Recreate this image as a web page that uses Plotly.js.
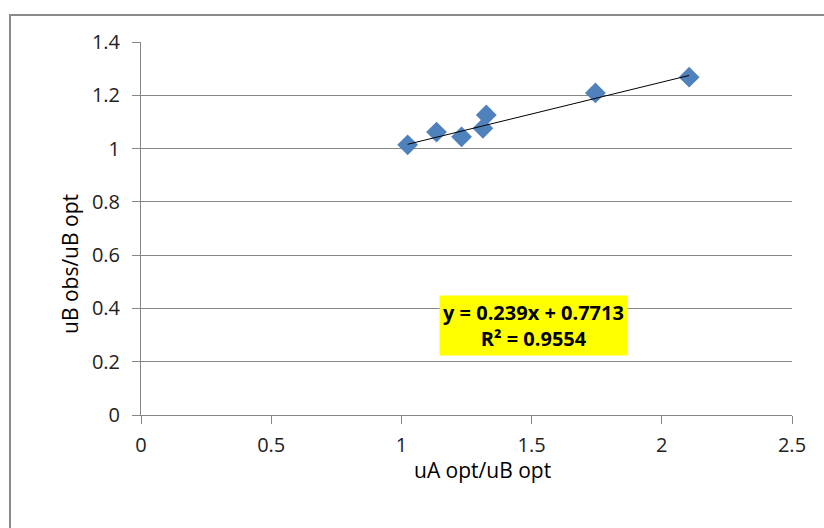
<!DOCTYPE html>
<html>
<head>
<meta charset="utf-8">
<script src="https://cdn.plot.ly/plotly-3.0.1.min.js"></script>
<style>
html,body{margin:0;padding:0;background:#fff;overflow:hidden;}
#frame{position:absolute;left:9px;top:14px;width:900px;height:600px;border:2px solid #8a8a8a;box-sizing:border-box;}
#chart{position:absolute;left:0;top:0;width:824px;height:528px;}
</style>
</head>
<body>
<div id="frame"></div>
<div id="chart"></div>
<script>
// Data
const xVals = [1.024, 1.135, 1.231, 1.313, 1.326, 1.745, 2.105];
const yVals = [1.014, 1.062, 1.044, 1.076, 1.126, 1.209, 1.268];
const trendSlope = [0.239];
const trendIntercept = [0.7713];
const trendLabel = ['y = 0.239x + 0.7713', 'R² = 0.9554'];
const xTitle = 'uA opt/uB opt';
const yTitle = 'uB obs/uB opt';
const xTicks = [0, 0.5, 1, 1.5, 2, 2.5];
const yTicks = [0, 0.2, 0.4, 0.6, 0.8, 1, 1.2, 1.4];

const xMin = Math.min(...xVals), xMax = Math.max(...xVals);
const trendX = [xMin, xMax];
const trendY = trendX.map(v => trendSlope[0] * v + trendIntercept[0]);

const font = "Open Sans";

const data = [
  {
    x: xVals, y: yVals, type: 'scatter', mode: 'markers',
    marker: {symbol: 'diamond', size: 16, color: '#4F81BD', line: {width: 0}},
    hoverinfo: 'x+y', showlegend: false
  },
  {
    x: trendX, y: trendY, type: 'scatter', mode: 'lines',
    line: {color: '#000000', width: 1}, showlegend: false, hoverinfo: 'skip'
  }
];

const layout = {
  width: 824, height: 528,
  margin: {l: 141, r: 32, t: 42, b: 113},
  paper_bgcolor: 'rgba(0,0,0,0)', plot_bgcolor: 'rgba(0,0,0,0)',
  font: {family: font, size: 20, color: '#000'},
  xaxis: {
    range: [0, 2.5], tickvals: xTicks, ticktext: xTicks.map(String),
    showgrid: false, zeroline: false,
    showline: true, linecolor: '#868686', linewidth: 1,
    ticks: 'outside', ticklen: 8, tickcolor: '#868686', tickwidth: 1,
    ticklabelstandoff: 4,
    tickfont: {family: font, size: 20, color: '#222'}
  },
  yaxis: {
    range: [0, 1.4], tickvals: yTicks, ticktext: yTicks.map(String),
    showgrid: true, gridcolor: '#868686', gridwidth: 1, zeroline: false,
    showline: true, linecolor: '#868686', linewidth: 1,
    ticks: 'outside', ticklen: 8, tickcolor: '#868686', tickwidth: 1,
    ticklabelstandoff: 8,
    tickfont: {family: font, size: 20, color: '#222'}
  },
  annotations: [
    {
      x: 1.507, y: 0.336, xref: 'x', yref: 'y', showarrow: false,
      text: '<b>' + trendLabel[0] + '</b><br><b>' + trendLabel[1] + '</b>',
      font: {family: font, size: 20, color: '#000'},
      bgcolor: '#FFFF00', borderpad: 3, align: 'center'
    },
    {
      x: 0.524, y: -0.147, xref: 'paper', yref: 'paper', showarrow: false,
      xanchor: 'center', yanchor: 'middle',
      text: xTitle, font: {family: font, size: 21, color: '#000'}
    },
    {
      x: -0.109, y: 0.405, xref: 'paper', yref: 'paper', showarrow: false,
      xanchor: 'center', yanchor: 'middle', textangle: -90,
      text: yTitle, font: {family: font, size: 21, color: '#000'}
    }
  ]
};

Plotly.newPlot('chart', data, layout, {displayModeBar: false, staticPlot: true});
</script>
</body>
</html>
